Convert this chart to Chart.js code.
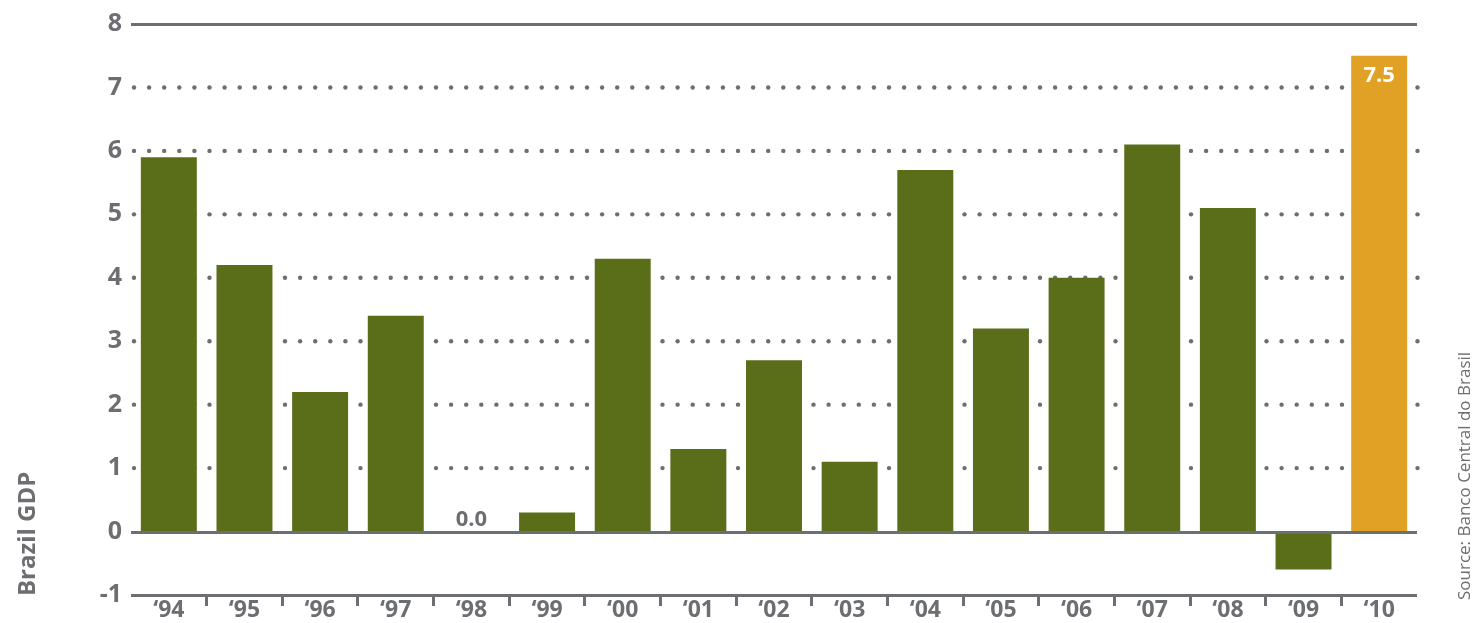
<!DOCTYPE html>
<html>
<head>
<meta charset="utf-8">
<script src="https://cdn.jsdelivr.net/npm/chart.js@4/dist/chart.umd.min.js"></script>
<style>
  html, body { margin: 0; padding: 0; background: #ffffff; }
  #wrap { width: 1475px; height: 623px; position: relative; }
</style>
</head>
<body>
<div id="wrap"><canvas id="c" width="1475" height="623"></canvas></div>
<script>
const categories = ["\u201894","\u201895","\u201896","\u201897","\u201898","\u201899","\u201800","\u201801","\u201802","\u201803","\u201804","\u201805","\u201806","\u201807","\u201808","\u201809","\u201810"];
const gdpGrowth = [5.9, 4.2, 2.2, 3.4, 0.0, 0.3, 4.3, 1.3, 2.7, 1.1, 5.7, 3.2, 4.0, 6.1, 5.1, -0.6, 7.5];
const annotatedIndexes = [4, 16];
const highlightIndex = 16;
const yTickMin = -1, yTickMax = 8, yTickStep = 1;
const solidGridValues = [8, 0, -1];
const axisTitle = "Brazil GDP";
const sourceText = "Source: Banco Central do Brasil";

const GREEN = "rgb(90,110,26)";
const ORANGE = "rgb(224,161,36)";
const GRAY = "#6d6e71";
const FONT = "'Open Sans', 'Liberation Sans', sans-serif";

const barColors = gdpGrowth.map((v, i) => i === highlightIndex ? ORANGE : GREEN);

const gridPlugin = {
  id: 'customGrid',
  beforeDatasetsDraw(chart) {
    const { ctx, chartArea, scales } = chart;
    const y = scales.y;
    ctx.save();
    ctx.fillStyle = GRAY;
    y.ticks.forEach(t => {
      if (solidGridValues.includes(t.value)) return;
      const py = y.getPixelForValue(t.value);
      for (let x = chartArea.left + 3; x <= chartArea.right + 3; x += 15.1) {
        ctx.beginPath();
        ctx.arc(x, py, 2.2, 0, Math.PI * 2);
        ctx.fill();
      }
    });
    ctx.restore();
  },
  afterDatasetsDraw(chart) {
    const { ctx, chartArea, scales } = chart;
    const y = scales.y;
    ctx.save();
    ctx.strokeStyle = GRAY;
    ctx.lineWidth = 3;
    solidGridValues.forEach(v => {
      const py = Math.round(y.getPixelForValue(v)) + 0.5;
      ctx.beginPath();
      ctx.moveTo(chartArea.left, py);
      ctx.lineTo(chartArea.right, py);
      ctx.stroke();
    });
    const meta = chart.getDatasetMeta(0);
    ctx.font = "bold 22px " + FONT;
    ctx.textAlign = 'center';
    annotatedIndexes.forEach(i => {
      const el = meta.data[i];
      const v = gdpGrowth[i];
      const txt = v.toFixed(1);
      if (i === highlightIndex) {
        ctx.fillStyle = '#ffffff';
        ctx.textBaseline = 'top';
        ctx.fillText(txt, el.x, el.y + 9);
      } else {
        ctx.fillStyle = GRAY;
        ctx.textBaseline = 'bottom';
        ctx.fillText(txt, el.x, el.y - 1);
      }
    });
    ctx.restore();
  },
  afterDraw(chart) {
    const { ctx } = chart;
    ctx.save();
    ctx.fillStyle = GRAY;
    ctx.textAlign = 'left';
    ctx.textBaseline = 'middle';
    ctx.translate(28, 596);
    ctx.rotate(-Math.PI / 2);
    ctx.font = "bold 24px " + FONT;
    ctx.fillText(axisTitle, 0, 0);
    ctx.restore();
    ctx.save();
    ctx.fillStyle = GRAY;
    ctx.textAlign = 'left';
    ctx.textBaseline = 'middle';
    ctx.translate(1465, 600);
    ctx.rotate(-Math.PI / 2);
    ctx.font = "17px " + FONT;
    ctx.fillText(sourceText, 0, 0);
    ctx.restore();
  }
};

new Chart(document.getElementById('c'), {
  type: 'bar',
  data: {
    labels: categories,
    datasets: [{
      data: gdpGrowth,
      backgroundColor: barColors,
      borderWidth: 0,
      barPercentage: 0.74,
      categoryPercentage: 1.0
    }]
  },
  options: {
    responsive: false,
    animation: false,
    events: [],
    layout: { padding: { left: 0, right: 58, top: 21, bottom: 0 } },
    plugins: { legend: { display: false }, tooltip: { enabled: false }, title: { display: false } },
    scales: {
      x: {
        offset: true,
        border: { display: false },
        grid: {
          offset: true,
          drawOnChartArea: false,
          drawTicks: true,
          tickLength: 11,
          tickWidth: 3,
          tickColor: (c) => (c.index === 0 || c.index === undefined) ? 'rgba(0,0,0,0)' : GRAY
        },
        ticks: {
          color: GRAY,
          font: { family: FONT, size: 23, weight: 'bold' },
          padding: -9,
          maxRotation: 0,
          autoSkip: false
        },
        afterFit(scale) { scale.height = 28; }
      },
      y: {
        min: yTickMin,
        max: yTickMax,
        border: { display: false },
        grid: { display: false, drawTicks: false },
        ticks: {
          stepSize: yTickStep,
          color: GRAY,
          font: { family: FONT, size: 25, weight: 'bold' },
          padding: 9
        },
        afterFit(scale) { scale.width = 131; }
      }
    }
  },
  plugins: [gridPlugin]
});
</script>
</body>
</html>
